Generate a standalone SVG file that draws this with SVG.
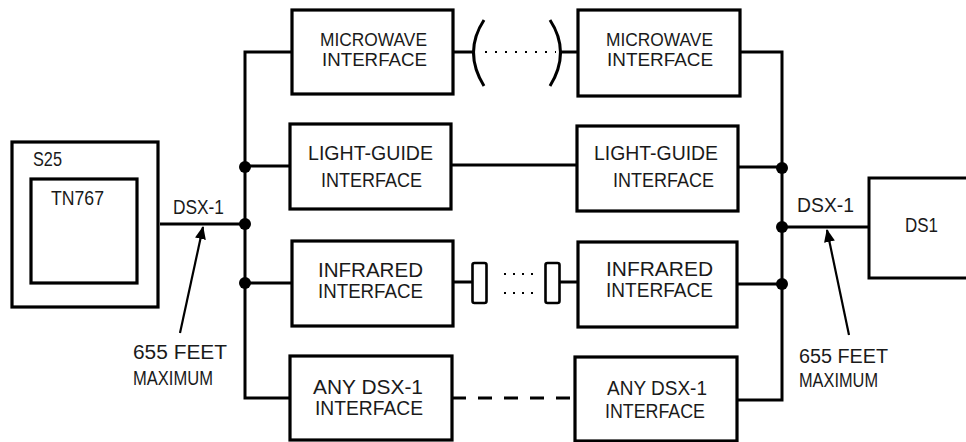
<svg xmlns="http://www.w3.org/2000/svg" width="966" height="442" viewBox="0 0 966 442">
<defs>
<style>
.box{fill:#fff;stroke:#000;stroke-width:3.2}
.ln{fill:none;stroke:#000;stroke-width:3}
.thin{fill:none;stroke:#000;stroke-width:2.2}
.dot{fill:#000}
.t{font-family:"Liberation Sans",Arial,sans-serif;font-size:20px;fill:#1a1a1a}
.s{font-size:18px}
</style>
<marker id="ah" markerWidth="13" markerHeight="11" refX="12" refY="5.5" orient="auto" markerUnits="userSpaceOnUse">
<path d="M0,0 L13,5.5 L0,11 Z" fill="#000"/>
</marker>
</defs>
<rect width="966" height="442" fill="#fff"/>

<g id="connectors">
<path class="ln" d="M292,52 H245 V398 H290"/>
<line class="ln" x1="245" y1="166" x2="290" y2="166"/>
<line class="ln" x1="160" y1="224" x2="245" y2="224"/>
<line class="ln" x1="245" y1="283" x2="292" y2="283"/>
<path class="ln" d="M740,52 H782 V400 H737"/>
<line class="ln" x1="738" y1="167" x2="782" y2="167"/>
<line class="ln" x1="782" y1="227" x2="870" y2="227"/>
<line class="ln" x1="737" y1="284" x2="782" y2="284"/>
<circle class="dot" cx="245" cy="167" r="6"/>
<circle class="dot" cx="245" cy="224" r="6"/>
<circle class="dot" cx="245" cy="283" r="6"/>
<circle class="dot" cx="782" cy="168" r="6"/>
<circle class="dot" cx="782" cy="227" r="6"/>
<circle class="dot" cx="782" cy="284" r="6"/>
<line class="ln" x1="453" y1="52" x2="473" y2="52"/>
<path class="ln" d="M484,20 Q463,52 484,86"/>
<line stroke="#000" stroke-width="2" stroke-dasharray="2 8" x1="485" y1="52" x2="556" y2="52"/>
<path class="ln" d="M550,20 Q571,52 550,86"/>
<line class="ln" x1="561" y1="52" x2="578" y2="52"/>
<line class="ln" x1="451" y1="165" x2="577" y2="165"/>
<line class="ln" x1="453" y1="282" x2="472" y2="282"/>
<rect x="472.5" y="263" width="14" height="40" rx="2" fill="#fff" stroke="#000" stroke-width="2.6"/>
<line stroke="#000" stroke-width="2" stroke-dasharray="2 7" x1="504" y1="274" x2="535" y2="274"/>
<line stroke="#000" stroke-width="2" stroke-dasharray="2 7" x1="504" y1="293" x2="535" y2="293"/>
<rect x="545.5" y="263" width="14" height="40" rx="2" fill="#fff" stroke="#000" stroke-width="2.6"/>
<line class="ln" x1="560" y1="282" x2="578" y2="282"/>
<line class="ln" x1="452" y1="398" x2="466" y2="398"/>
<line class="ln" stroke-dasharray="14 12" x1="478" y1="398" x2="578" y2="398"/>
<line class="thin" x1="180" y1="333" x2="203" y2="227" marker-end="url(#ah)"/>
<line class="thin" x1="849" y1="335" x2="827" y2="230" marker-end="url(#ah)"/>
</g>

<g id="s25">
<rect class="box" x="12" y="142" width="146" height="165"/>
<text class="t" x="33" y="166" textLength="29" lengthAdjust="spacingAndGlyphs">S25</text>
</g>
<g id="tn767">
<rect class="box" x="31" y="179" width="106" height="104"/>
<text class="t" x="51" y="205" textLength="53" lengthAdjust="spacingAndGlyphs">TN767</text>
</g>

<g id="label-dsx1-left">
<text class="t" x="173" y="214" textLength="51" lengthAdjust="spacingAndGlyphs">DSX-1</text>
</g>
<g id="label-655-left">
<text class="t" x="133" y="359" textLength="94" lengthAdjust="spacingAndGlyphs">655  FEET</text>
<text class="t" x="133" y="385" textLength="80" lengthAdjust="spacingAndGlyphs">MAXIMUM</text>
</g>

<g id="microwave-left">
<rect class="box" x="292" y="10" width="161" height="84"/>
<text class="t s" x="320" y="46" textLength="107" lengthAdjust="spacingAndGlyphs">MICROWAVE</text>
<text class="t s" x="322" y="66" textLength="105" lengthAdjust="spacingAndGlyphs">INTERFACE</text>
</g>
<g id="microwave-right">
<rect class="box" x="578" y="10" width="162" height="86"/>
<text class="t s" x="606" y="46" textLength="107" lengthAdjust="spacingAndGlyphs">MICROWAVE</text>
<text class="t s" x="607" y="66" textLength="106" lengthAdjust="spacingAndGlyphs">INTERFACE</text>
</g>

<g id="lightguide-left">
<rect class="box" x="290" y="124" width="161" height="85"/>
<text class="t" x="308" y="160" textLength="125" lengthAdjust="spacingAndGlyphs">LIGHT-GUIDE</text>
<text class="t" x="321" y="187" textLength="101" lengthAdjust="spacingAndGlyphs">INTERFACE</text>
</g>
<g id="lightguide-right">
<rect class="box" x="577" y="126" width="161" height="85"/>
<text class="t" x="594" y="160" textLength="124" lengthAdjust="spacingAndGlyphs">LIGHT-GUIDE</text>
<text class="t" x="613" y="187" textLength="101" lengthAdjust="spacingAndGlyphs">INTERFACE</text>
</g>

<g id="infrared-left">
<rect class="box" x="292" y="241" width="161" height="85"/>
<text class="t" x="318" y="277" textLength="105" lengthAdjust="spacingAndGlyphs">INFRARED</text>
<text class="t" x="318" y="298" textLength="105" lengthAdjust="spacingAndGlyphs">INTERFACE</text>
</g>
<g id="infrared-right">
<rect class="box" x="578" y="242" width="159" height="85"/>
<text class="t" x="606" y="276" textLength="107" lengthAdjust="spacingAndGlyphs">INFRARED</text>
<text class="t" x="606" y="297" textLength="107" lengthAdjust="spacingAndGlyphs">INTERFACE</text>
</g>

<g id="anydsx1-left">
<rect class="box" x="290" y="356" width="162" height="84"/>
<text class="t" x="313" y="394" textLength="110" lengthAdjust="spacingAndGlyphs">ANY  DSX-1</text>
<text class="t" x="315" y="415" textLength="108" lengthAdjust="spacingAndGlyphs">INTERFACE</text>
</g>
<g id="anydsx1-right">
<rect class="box" x="575" y="357" width="162" height="84"/>
<text class="t" x="607" y="395" textLength="100" lengthAdjust="spacingAndGlyphs">ANY  DSX-1</text>
<text class="t" x="605" y="418" textLength="100" lengthAdjust="spacingAndGlyphs">INTERFACE</text>
</g>

<g id="label-dsx1-right">
<text class="t" x="797" y="212" textLength="57" lengthAdjust="spacingAndGlyphs">DSX-1</text>
</g>
<g id="ds1">
<path class="ln" stroke-width="3.2" d="M966,178 H869 V278 H966"/>
<text class="t" x="905" y="232" textLength="33" lengthAdjust="spacingAndGlyphs">DS1</text>
</g>
<g id="label-655-right">
<text class="t" x="799" y="363" textLength="89" lengthAdjust="spacingAndGlyphs">655  FEET</text>
<text class="t" x="799" y="387" textLength="79" lengthAdjust="spacingAndGlyphs">MAXIMUM</text>
</g>
</svg>
